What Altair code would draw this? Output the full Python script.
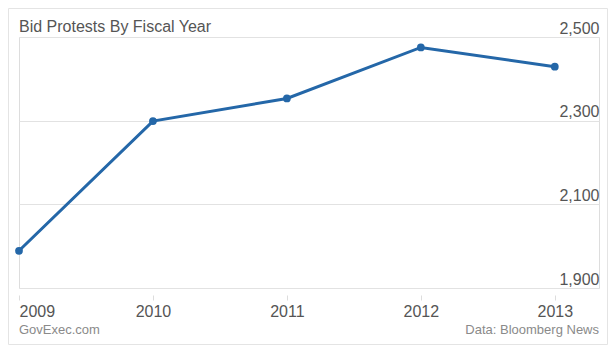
import altair as alt
import pandas as pd

years = [2009, 2010, 2011, 2012, 2013]
protests = [1989, 2299, 2353, 2475, 2429]
y_ticks = [1900, 2100, 2300, 2500]
title_text = "Bid Protests By Fiscal Year"
footer_left = "GovExec.com"
footer_right = "Data: Bloomberg News"

W, H = 580, 251
XMAX = 2013.33

df = pd.DataFrame({"year": years, "protests": protests})
title_df = pd.DataFrame({"x": [2009], "label": [title_text]})
foot_l = pd.DataFrame({"x": [2009], "label": [footer_left]})
foot_r = pd.DataFrame({"x": [XMAX], "label": [footer_right]})

color = "#2467a8"
font = "Liberation Sans"

xscale = alt.Scale(domain=[2009, XMAX], nice=False, zero=False)
yscale = alt.Scale(domain=[1900, 2500], nice=False, zero=False)

border = alt.Chart(pd.DataFrame({"a": [0]})).mark_rect(
    fillOpacity=0, stroke="#e4e4e4", strokeWidth=1
).encode(
    x=alt.value(-10.5), x2=alt.value(W + 8.5),
    y=alt.value(-28.5), y2=alt.value(H + 56.5)
)

base = alt.Chart(df).encode(
    x=alt.X("year:Q", scale=xscale,
            axis=alt.Axis(values=years, format="d", title=None, grid=False,
                          domain=False, ticks=True, tickSize=5, tickColor="#dddddd",
                          offset=7, labelFontSize=16, labelColor="#555555",
                          labelFont=font, labelPadding=3, labelFlush=True)),
    y=alt.Y("protests:Q", scale=yscale,
            axis=alt.Axis(values=y_ticks, format=",.0f", title=None, orient="right",
                          grid=True, gridColor="#e2e2e2", gridWidth=1,
                          domain=False, ticks=False, tickSize=0,
                          labelAlign="right", labelBaseline="alphabetic",
                          labelPadding=0, labelOffset=-4, labelFlush=False,
                          labelFontSize=16, labelColor="#555555", labelFont=font)),
)

line = base.mark_line(color=color, strokeWidth=3)
pts = base.mark_circle(color=color, size=60, opacity=1)

def text_layer(d, align, size, col, yv):
    return alt.Chart(d).mark_text(
        fontSize=size, color=col, font=font, baseline="alphabetic", align=align
    ).encode(
        x=alt.X("x:Q", scale=xscale),
        y=alt.value(yv),
        text="label:N",
    )

chart = alt.layer(
    border, line, pts,
    text_layer(title_df, "left", 16, "#555555", -5.5),
    text_layer(foot_l, "left", 13, "#8a8a8a", H + 45.5),
    text_layer(foot_r, "right", 13, "#8a8a8a", H + 45.5),
).properties(
    width=W, height=H,
    autosize=alt.AutoSizeParams(type="none"),
    padding={"left": 19, "top": 37, "right": 16, "bottom": 64},
).configure_view(stroke=None).configure(background="white")

chart.save("out.html", embed_options={"renderer": "svg", "actions": False})
